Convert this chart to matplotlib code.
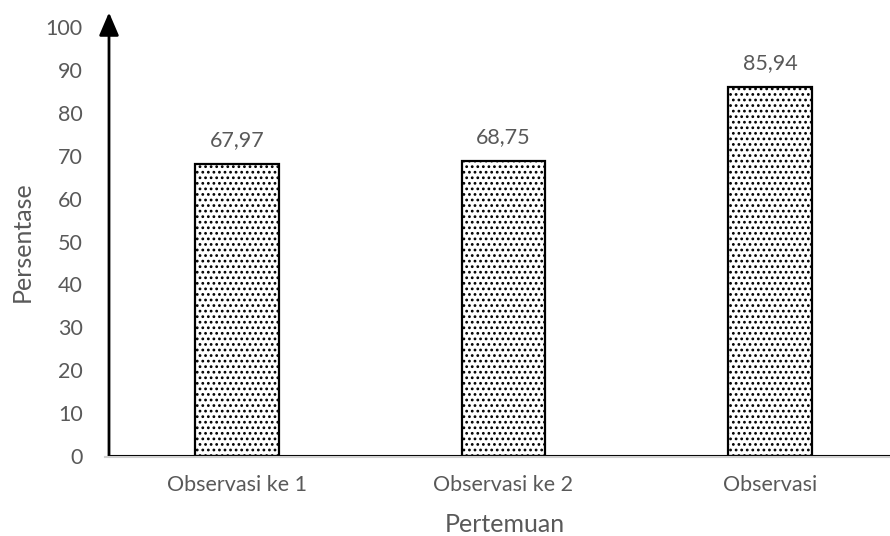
import matplotlib
matplotlib.use("Agg")
import matplotlib.pyplot as plt
from matplotlib.lines import Line2D

# Data
categories = ["Observasi ke 1", "Observasi ke 2", "Observasi"]
values = [67.97, 68.75, 85.94]
value_labels = ["67,97", "68,75", "85,94"]
y_ticks = [0, 10, 20, 30, 40, 50, 60, 70, 80, 90, 100]

TEXT = "#595959"
plt.rcParams["font.family"] = ["Lato", "DejaVu Sans"]
plt.rcParams["hatch.linewidth"] = 1.2
FS = 15.5
FS_TITLE = 18

W, H = 890, 536
fig = plt.figure(figsize=(W / 100, H / 100), dpi=100)
ax_left, ax_right, ax_bottom, ax_top = 109, 890, 456, 27
ax = fig.add_axes([ax_left / W, (H - ax_bottom) / H,
                   (ax_right - ax_left) / W, (ax_bottom - ax_top) / H])

x = list(range(len(categories)))
ax.bar(x, values, width=0.315, facecolor="white", edgecolor="black",
       hatch="...", linewidth=1.6, zorder=3)

for xi, v, lab in zip(x, values, value_labels):
    ax.annotate(lab, (xi, v), xytext=(0, 13), textcoords="offset points",
                ha="center", va="baseline", fontsize=FS, color=TEXT)

ax.set_xlim(-0.48, 2.45)
ax.set_ylim(0, 100)
ax.set_yticks(y_ticks)
ax.set_xticks(x)
ax.set_xticklabels(categories)
ax.tick_params(axis="both", length=0, labelsize=FS, colors=TEXT)
ax.tick_params(axis="y", pad=19)
ax.tick_params(axis="x", pad=14)

for s in ax.spines.values():
    s.set_visible(False)

# Gray category axis with a black line on top
fig.add_artist(Line2D([105 / W, 1.0], [(H - 457) / H] * 2, color="#d0d0d0",
                      lw=1.5, transform=fig.transFigure))
ax.axhline(0, color="black", lw=1.5, zorder=4, clip_on=False)

# Vertical axis drawn as an arrow
ax.annotate("", xy=(0, 1.034), xytext=(0, 0), xycoords="axes fraction",
            textcoords="axes fraction",
            arrowprops=dict(arrowstyle="-|>,head_length=0.7,head_width=0.3",
                            color="black", lw=2, shrinkA=0, shrinkB=0,
                            mutation_scale=20),
            annotation_clip=False)

ax.set_ylabel("Persentase", fontsize=FS_TITLE, color=TEXT, va="center")
ax.yaxis.set_label_coords((22 - ax_left) / (ax_right - ax_left), 0.5)
ax.set_xlabel("Pertemuan", fontsize=FS_TITLE, color=TEXT, va="center")
ax.xaxis.set_label_coords((504.5 - ax_left) / (ax_right - ax_left),
                          (ax_bottom - 525) / (ax_bottom - ax_top))

fig.savefig("out.png", dpi=100)
